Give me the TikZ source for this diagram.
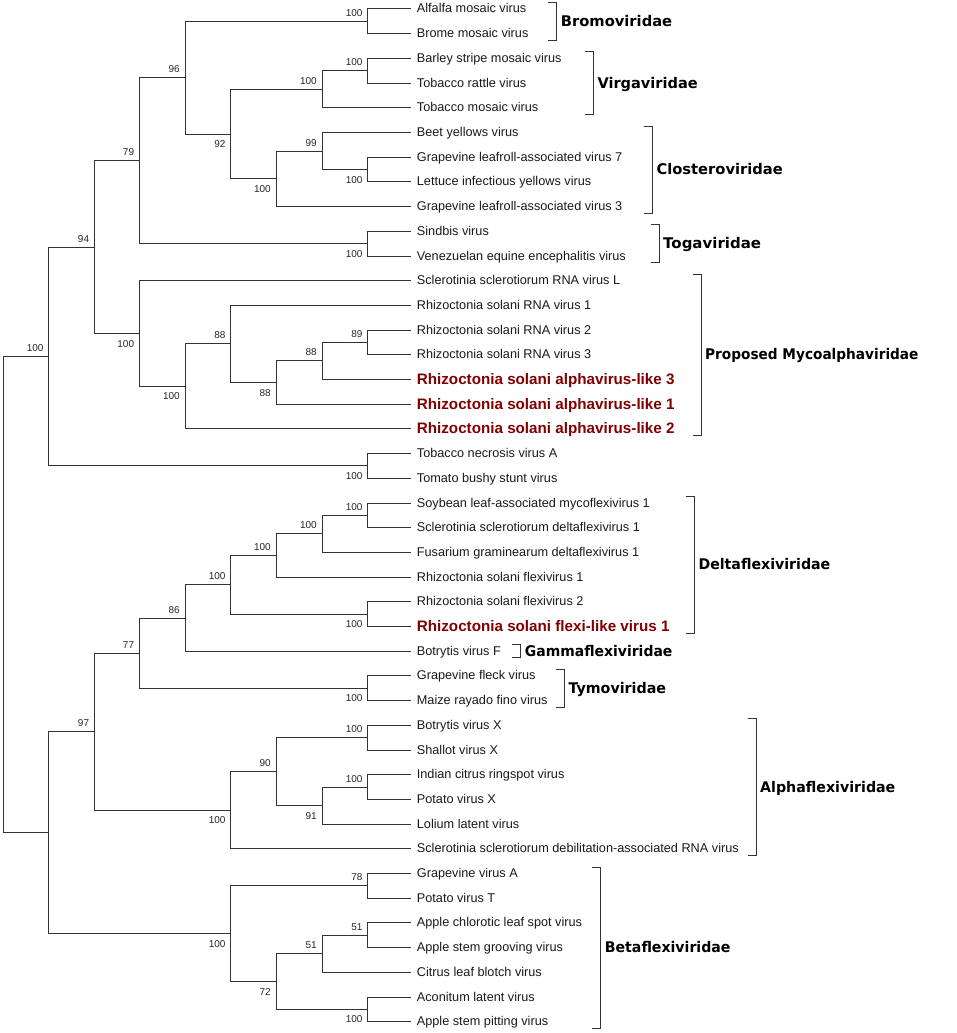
\documentclass[tikz,border=0pt]{standalone}
\usepackage{fontspec}
\newfontfamily\arialf{Liberation Sans}
\newfontfamily\famfont{DejaVu Sans}
\definecolor{treeline}{HTML}{333333}
\definecolor{hlred}{HTML}{800000}
\begin{document}
\begin{tikzpicture}[x=1pt,y=-1pt,
  br/.style={draw=treeline, line width=1pt},
  leaf/.style={anchor=base west, inner sep=0pt, font=\arialf\fontsize{12.7}{15}\selectfont, text=black!90},
  hl/.style={anchor=base west, inner sep=0pt, font=\arialf\bfseries\fontsize{15.2}{18}\selectfont, text=hlred},
  bs/.style={anchor=base east, inner sep=0pt, font=\arialf\fontsize{10}{12}\selectfont, text=black!85},
  fam/.style={anchor=base west, inner sep=0pt, font=\famfont\bfseries\fontsize{14.7}{17}\selectfont},
  bracket/.style={draw=treeline, line width=1pt},
  ab/.style={bs, xshift=-5pt, yshift=5pt},
  be/.style={bs, xshift=-5pt, yshift=-13.5pt}]
\useasboundingbox (0,0) rectangle (957,1033);
\def\Xa{3.3}\def\Xb{48.7}\def\Xc{94.3}\def\Xd{139.3}\def\Xe{185}
\def\Xf{230.7}\def\Xg{276}\def\Xh{322}\def\Xi{367.7}
% leaf ends
\foreach \i/\yy in {0/9,1/33.7,2/58.4,3/83.1,4/107.8,5/132.5,6/157.2,7/181.9,8/206.6,9/231.3,
  10/256,11/280.7,12/305.4,13/330.1,14/354.8,15/379.5,16/404.2,17/428.9,18/453.6,19/478.3,
  20/503,21/527.7,22/552.4,23/577.1,24/601.8,25/626.5,26/651.2,27/675.9,28/700.6,29/725.3,
  30/750,31/774.7,32/799.4,33/824.1,34/848.8,35/873.5,36/898.2,37/922.9,38/947.6,39/972.3,
  40/997,41/1021.7}{\coordinate (l\i) at (410.7,\yy);}
% leaf labels
\node[leaf] (t0) at ([xshift=6pt,yshift=-4pt]l0) {Alfalfa mosaic virus};
\node[leaf] (t1) at ([xshift=6pt,yshift=-4pt]l1) {Brome mosaic virus};
\node[leaf] (t2) at ([xshift=6pt,yshift=-4pt]l2) {Barley stripe mosaic virus};
\node[leaf] (t3) at ([xshift=6pt,yshift=-4pt]l3) {Tobacco rattle virus};
\node[leaf] (t4) at ([xshift=6pt,yshift=-4pt]l4) {Tobacco mosaic virus};
\node[leaf] (t5) at ([xshift=6pt,yshift=-4pt]l5) {Beet yellows virus};
\node[leaf] (t6) at ([xshift=6pt,yshift=-4pt]l6) {Grapevine leafroll-associated virus 7};
\node[leaf] (t7) at ([xshift=6pt,yshift=-4pt]l7) {Lettuce infectious yellows virus};
\node[leaf] (t8) at ([xshift=6pt,yshift=-4pt]l8) {Grapevine leafroll-associated virus 3};
\node[leaf] (t9) at ([xshift=6pt,yshift=-4pt]l9) {Sindbis virus};
\node[leaf] (t10) at ([xshift=6pt,yshift=-4pt]l10) {Venezuelan equine encephalitis virus};
\node[leaf] (t11) at ([xshift=6pt,yshift=-4pt]l11) {Sclerotinia sclerotiorum RNA virus L};
\node[leaf] (t12) at ([xshift=6pt,yshift=-4pt]l12) {Rhizoctonia solani RNA virus 1};
\node[leaf] (t13) at ([xshift=6pt,yshift=-4pt]l13) {Rhizoctonia solani RNA virus 2};
\node[leaf] (t14) at ([xshift=6pt,yshift=-4pt]l14) {Rhizoctonia solani RNA virus 3};
\node[hl] (t15) at ([xshift=6pt,yshift=-5pt]l15) {Rhizoctonia solani alphavirus-like 3};
\node[hl] (t16) at ([xshift=6pt,yshift=-5pt]l16) {Rhizoctonia solani alphavirus-like 1};
\node[hl] (t17) at ([xshift=6pt,yshift=-5pt]l17) {Rhizoctonia solani alphavirus-like 2};
\node[leaf] (t18) at ([xshift=6pt,yshift=-4pt]l18) {Tobacco necrosis virus A};
\node[leaf] (t19) at ([xshift=6pt,yshift=-4pt]l19) {Tomato bushy stunt virus};
\node[leaf] (t20) at ([xshift=6pt,yshift=-4pt]l20) {Soybean leaf-associated mycoflexivirus 1};
\node[leaf] (t21) at ([xshift=6pt,yshift=-4pt]l21) {Sclerotinia sclerotiorum deltaflexivirus 1};
\node[leaf] (t22) at ([xshift=6pt,yshift=-4pt]l22) {Fusarium graminearum deltaflexivirus 1};
\node[leaf] (t23) at ([xshift=6pt,yshift=-4pt]l23) {Rhizoctonia solani flexivirus 1};
\node[leaf] (t24) at ([xshift=6pt,yshift=-4pt]l24) {Rhizoctonia solani flexivirus 2};
\node[hl] (t25) at ([xshift=6pt,yshift=-5pt]l25) {Rhizoctonia solani flexi-like virus 1};
\node[leaf] (t26) at ([xshift=6pt,yshift=-4pt]l26) {Botrytis virus F};
\node[leaf] (t27) at ([xshift=6pt,yshift=-4pt]l27) {Grapevine fleck virus};
\node[leaf] (t28) at ([xshift=6pt,yshift=-4pt]l28) {Maize rayado fino virus};
\node[leaf] (t29) at ([xshift=6pt,yshift=-4pt]l29) {Botrytis virus X};
\node[leaf] (t30) at ([xshift=6pt,yshift=-4pt]l30) {Shallot virus X};
\node[leaf] (t31) at ([xshift=6pt,yshift=-4pt]l31) {Indian citrus ringspot virus};
\node[leaf] (t32) at ([xshift=6pt,yshift=-4pt]l32) {Potato virus X};
\node[leaf] (t33) at ([xshift=6pt,yshift=-4pt]l33) {Lolium latent virus};
\node[leaf] (t34) at ([xshift=6pt,yshift=-4pt]l34) {Sclerotinia sclerotiorum debilitation-associated RNA virus};
\node[leaf] (t35) at ([xshift=6pt,yshift=-4pt]l35) {Grapevine virus A};
\node[leaf] (t36) at ([xshift=6pt,yshift=-4pt]l36) {Potato virus T};
\node[leaf] (t37) at ([xshift=6pt,yshift=-4pt]l37) {Apple chlorotic leaf spot virus};
\node[leaf] (t38) at ([xshift=6pt,yshift=-4pt]l38) {Apple stem grooving virus};
\node[leaf] (t39) at ([xshift=6pt,yshift=-4pt]l39) {Citrus leaf blotch virus};
\node[leaf] (t40) at ([xshift=6pt,yshift=-4pt]l40) {Aconitum latent virus};
\node[leaf] (t41) at ([xshift=6pt,yshift=-4pt]l41) {Apple stem pitting virus};
% internal nodes
\coordinate (Bromo) at (\Xi,21.35);
\coordinate (VirgaIn) at (\Xi,70.75);
\coordinate (Virga) at (\Xh,89.275);
\coordinate (CloIn) at (\Xi,169.55);
\coordinate (CloMid) at (\Xh,151.025);
\coordinate (Clo) at (\Xg,178.81);
\coordinate (N92) at (\Xf,134.04);
\coordinate (N96) at (\Xe,77.70);
\coordinate (Toga) at (\Xi,243.65);
\coordinate (N79) at (\Xd,160.67);
\coordinate (MycoIn) at (\Xi,342.45);
\coordinate (N88a) at (\Xh,360.98);
\coordinate (N88b) at (\Xg,382.59);
\coordinate (N88c) at (\Xf,343.99);
\coordinate (N100m) at (\Xe,386.45);
\coordinate (Myco) at (\Xd,333.57);
\coordinate (N94) at (\Xc,247.12);
\coordinate (Tombus) at (\Xi,465.95);
\coordinate (N100r) at (\Xb,356.54);
\coordinate (DeltaIn) at (\Xi,515.35);
\coordinate (Delta7) at (\Xh,533.88);
\coordinate (Delta6) at (\Xg,555.49);
\coordinate (DeltaB) at (\Xi,614.15);
\coordinate (Delta5) at (\Xf,584.82);
\coordinate (N86) at (\Xe,618.01);
\coordinate (Tymo) at (\Xi,688.25);
\coordinate (N77) at (\Xd,653.13);
\coordinate (AlphaA) at (\Xi,737.65);
\coordinate (AlphaB) at (\Xi,787.05);
\coordinate (N91) at (\Xh,805.58);
\coordinate (N90) at (\Xg,771.61);
\coordinate (Alpha) at (\Xf,810.21);
\coordinate (N97) at (\Xc,731.67);
\coordinate (BetaA) at (\Xi,885.85);
\coordinate (BetaC) at (\Xi,935.25);
\coordinate (N51) at (\Xh,953.78);
\coordinate (BetaD) at (\Xi,1009.35);
\coordinate (N72) at (\Xg,981.56);
\coordinate (Beta) at (\Xf,933.71);
\coordinate (NB) at (\Xb,832.69);
\coordinate (Root) at (\Xa,594.6);
% branches
\draw[br] (Bromo) |- (l0) (Bromo) |- (l1);
\draw[br] (VirgaIn) |- (l2) (VirgaIn) |- (l3);
\draw[br] (Virga) |- (VirgaIn) (Virga) |- (l4);
\draw[br] (CloIn) |- (l6) (CloIn) |- (l7);
\draw[br] (CloMid) |- (l5) (CloMid) |- (CloIn);
\draw[br] (Clo) |- (CloMid) (Clo) |- (l8);
\draw[br] (N92) |- (Virga) (N92) |- (Clo);
\draw[br] (N96) |- (Bromo) (N96) |- (N92);
\draw[br] (Toga) |- (l9) (Toga) |- (l10);
\draw[br] (N79) |- (N96) (N79) |- (Toga);
\draw[br] (MycoIn) |- (l13) (MycoIn) |- (l14);
\draw[br] (N88a) |- (MycoIn) (N88a) |- (l15);
\draw[br] (N88b) |- (N88a) (N88b) |- (l16);
\draw[br] (N88c) |- (l12) (N88c) |- (N88b);
\draw[br] (N100m) |- (N88c) (N100m) |- (l17);
\draw[br] (Myco) |- (l11) (Myco) |- (N100m);
\draw[br] (N94) |- (N79) (N94) |- (Myco);
\draw[br] (Tombus) |- (l18) (Tombus) |- (l19);
\draw[br] (N100r) |- (N94) (N100r) |- (Tombus);
\draw[br] (DeltaIn) |- (l20) (DeltaIn) |- (l21);
\draw[br] (Delta7) |- (DeltaIn) (Delta7) |- (l22);
\draw[br] (Delta6) |- (Delta7) (Delta6) |- (l23);
\draw[br] (DeltaB) |- (l24) (DeltaB) |- (l25);
\draw[br] (Delta5) |- (Delta6) (Delta5) |- (DeltaB);
\draw[br] (N86) |- (Delta5) (N86) |- (l26);
\draw[br] (Tymo) |- (l27) (Tymo) |- (l28);
\draw[br] (N77) |- (N86) (N77) |- (Tymo);
\draw[br] (AlphaA) |- (l29) (AlphaA) |- (l30);
\draw[br] (AlphaB) |- (l31) (AlphaB) |- (l32);
\draw[br] (N91) |- (AlphaB) (N91) |- (l33);
\draw[br] (N90) |- (AlphaA) (N90) |- (N91);
\draw[br] (Alpha) |- (N90) (Alpha) |- (l34);
\draw[br] (N97) |- (N77) (N97) |- (Alpha);
\draw[br] (BetaA) |- (l35) (BetaA) |- (l36);
\draw[br] (BetaC) |- (l37) (BetaC) |- (l38);
\draw[br] (N51) |- (BetaC) (N51) |- (l39);
\draw[br] (BetaD) |- (l40) (BetaD) |- (l41);
\draw[br] (N72) |- (N51) (N72) |- (BetaD);
\draw[br] (Beta) |- (BetaA) (Beta) |- (N72);
\draw[br] (NB) |- (N97) (NB) |- (Beta);
\draw[br] (Root) |- (N100r) (Root) |- (NB);
% bootstrap values
\node[ab] (bBromo) at (Bromo) {100};
\node[ab] (bVirgaIn) at (VirgaIn) {100};
\node[ab] (bVirga) at (Virga) {100};
\node[be] (bCloIn) at (CloIn) {100};
\node[ab] (bCloMid) at (CloMid) {99};
\node[be] (bClo) at (Clo) {100};
\node[be] (bN92) at (N92) {92};
\node[ab] (bN96) at (N96) {96};
\node[be] (bToga) at (Toga) {100};
\node[ab] (bN79) at (N79) {79};
\node[ab] (bMycoIn) at (MycoIn) {89};
\node[ab] (bN88a) at (N88a) {88};
\node[be] (bN88b) at (N88b) {88};
\node[ab] (bN88c) at (N88c) {88};
\node[be] (bN100m) at (N100m) {100};
\node[be] (bMyco) at (Myco) {100};
\node[ab] (bN94) at (N94) {94};
\node[be] (bTombus) at (Tombus) {100};
\node[ab] (bN100r) at (N100r) {100};
\node[ab] (bDeltaIn) at (DeltaIn) {100};
\node[ab] (bDelta7) at (Delta7) {100};
\node[ab] (bDelta6) at (Delta6) {100};
\node[be] (bDeltaB) at (DeltaB) {100};
\node[ab] (bDelta5) at (Delta5) {100};
\node[ab] (bN86) at (N86) {86};
\node[be] (bTymo) at (Tymo) {100};
\node[ab] (bN77) at (N77) {77};
\node[ab] (bAlphaA) at (AlphaA) {100};
\node[ab] (bAlphaB) at (AlphaB) {100};
\node[be] (bN91) at (N91) {91};
\node[ab] (bN90) at (N90) {90};
\node[be] (bAlpha) at (Alpha) {100};
\node[ab] (bN97) at (N97) {97};
\node[ab] (bBetaA) at (BetaA) {78};
\node[ab] (bBetaC) at (BetaC) {51};
\node[ab] (bN51) at (N51) {51};
\node[be] (bBetaD) at (BetaD) {100};
\node[be] (bN72) at (N72) {72};
\node[be] (bBeta) at (Beta) {100};
% family brackets and names
\foreach \nm/\bx/\ya/\yb/\sc in {Bromoviridae/556.7/9/33.7/1, Virgaviridae/593.3/58.4/107.8/0.99,
  Closteroviridae/652.3/132.5/206.6/1, Togaviridae/659/231.3/256/1.02,
  Proposed Mycoalphaviridae/701/280.7/428.9/0.93, Deltaflexiviridae/694.3/503/626.5/0.963,
  Gammaflexiviridae/520.7/651.2/651.2/0.95, Tymoviridae/564.3/675.9/700.6/0.97,
  Alphaflexiviridae/756/725.3/848.8/0.965, Betaflexiviridae/600.7/873.5/1021.7/0.96}{
  \draw[bracket] (\bx-8.5,\ya-6.5) -- (\bx,\ya-6.5) -- (\bx,\yb+6.5) -- (\bx-8.5,\yb+6.5);
  \node[fam] at (\bx+4,{(\ya+\yb)/2+5}) {\scalebox{\sc}[1]{\nm}};
}
\end{tikzpicture}
\end{document}
